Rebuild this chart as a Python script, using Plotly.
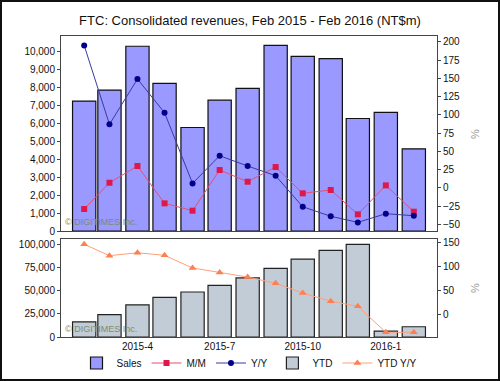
import plotly.graph_objects as go

months = ["2015-2", "2015-3", "2015-4", "2015-5", "2015-6", "2015-7", "2015-8",
          "2015-9", "2015-10", "2015-11", "2015-12", "2016-1", "2016-2"]
sales = [7230, 7840, 10280, 8210, 5760, 7280, 7940, 10330, 9720, 9590, 6260, 6600, 4570]
mm = [-29.1, 6.9, 29.8, -21.3, -31.4, 24.3, 8.3, 28.4, -7.6, -3.0, -36.4, 3.3, -32.8]
yy = [195.0, 86.9, 149.0, 102.8, 6.0, 43.9, 29.8, 16.5, -26.0, -39.0, -47.4, -35.5, -38.3]
ytd = [16300, 24100, 34500, 42600, 48400, 55600, 63500, 73900, 83800, 93200, 99600, 6400, 11000]
ytd_yy = [146.7, 123.0, 129.0, 123.7, 97.3, 88.0, 78.5, 65.4, 45.2, 27.9, 17.5, -36.7, -36.7]
tick_months = ["2015-4", "2015-7", "2015-10", "2016-1"]

FONT = "Liberation Sans, Arial, sans-serif"
W, H = 500, 381
L, R, T, B = 61, 63, 36, 44
PW, PH = W - L - R, H - T - B

def py(y):  # pixel y -> paper y
    return (H - B - y) / PH

def px(x):
    return (x - L) / PW

fig = go.Figure()
fig.add_trace(go.Bar(x=months, y=sales, name="Sales", xaxis="x", yaxis="y",
                     marker=dict(color="#9999FF", line=dict(color="#111111", width=1.2))))
fig.add_trace(go.Scatter(x=months, y=mm, name="M/M", xaxis="x", yaxis="y2", mode="lines+markers",
                         line=dict(color="#E8506E", width=1),
                         marker=dict(symbol="square", size=6, color="#E0174A")))
fig.add_trace(go.Scatter(x=months, y=yy, name="Y/Y", xaxis="x", yaxis="y2", mode="lines+markers",
                         line=dict(color="#3A3AA0", width=1),
                         marker=dict(symbol="circle", size=6, color="#00008B")))
fig.add_trace(go.Bar(x=months, y=ytd, name="YTD", xaxis="x2", yaxis="y3",
                     marker=dict(color="#C2CCD6", line=dict(color="#222222", width=1.2))))
fig.add_trace(go.Scatter(x=months, y=ytd_yy, name="YTD Y/Y", xaxis="x2", yaxis="y4", mode="lines+markers",
                         line=dict(color="#FFA07A", width=1),
                         marker=dict(symbol="triangle-up", size=7, color="#FF7F50")))

top_dom = [py(231), 1.0]
bot_dom = [0.0, py(239)]

axis_common = dict(showgrid=False, zeroline=False, showline=True, linecolor="#444444", linewidth=1,
                   tickfont=dict(family=FONT, size=10, color="#111111"))

fig.update_layout(
    width=W, height=H,
    margin=dict(l=L, r=R, t=T, b=B, autoexpand=False),
    paper_bgcolor="white", plot_bgcolor="white",
    bargap=0.08,
    showlegend=True,
    title=dict(text="FTC: Consolidated revenues, Feb 2015 - Feb 2016 (NT$m)",
               x=0.5, xanchor="center", y=1 - 20 / H, yanchor="middle",
               font=dict(family=FONT, size=13, color="#111111")),
    xaxis=dict(domain=[0, 1], anchor="y", matches="x2", showticklabels=False, ticks="",
               mirror=True, categoryorder="array", categoryarray=months, **axis_common),
    xaxis2=dict(domain=[0, 1], anchor="y3", tickvals=tick_months, ticktext=tick_months, ticks="",
                mirror=True, categoryorder="array", categoryarray=months, **axis_common),
    yaxis=dict(domain=top_dom, anchor="x", range=[0, 10850], tickvals=list(range(0, 10001, 1000)),
               tickformat=",d", ticks="outside", ticklen=3, tickcolor="#444444", mirror=True, **axis_common),
    yaxis2=dict(domain=top_dom, anchor="x", overlaying="y", side="right", range=[-59.2, 207.9],
                tickvals=list(range(-50, 201, 25)), ticks="outside", ticklen=3, tickcolor="#444444",
                **axis_common),
    yaxis3=dict(domain=bot_dom, anchor="x2", range=[0, 105400], tickvals=[0, 25000, 50000, 75000, 100000],
                tickformat=",d", ticks="outside", ticklen=3, tickcolor="#444444", mirror=True, **axis_common),
    yaxis4=dict(domain=bot_dom, anchor="x2", overlaying="y3", side="right", range=[-46.5, 157.7],
                tickvals=[0, 50, 100, 150], ticks="outside", ticklen=3, tickcolor="#444444",
                **axis_common),
    legend=dict(orientation="h", x=0.5, xanchor="center", y=py(363), yanchor="middle",
                font=dict(family=FONT, size=10, color="#111111"), itemwidth=30,
                traceorder="normal", bgcolor="rgba(0,0,0,0)"),
)

annots = [
    dict(text="%", x=px(475), y=py(134), textangle=-90),
    dict(text="%", x=px(475), y=py(288), textangle=-90),
]
for a in annots:
    fig.add_annotation(xref="paper", yref="paper", showarrow=False, xanchor="center", yanchor="middle",
                       font=dict(family=FONT, size=11, color="#999999"), **a)

for yy_pix in (222, 329):
    fig.add_annotation(text="© DIGITIMES Inc.", xref="paper", yref="paper", x=px(63), y=py(yy_pix),
                       xanchor="left", yanchor="middle", showarrow=False,
                       font=dict(family=FONT, size=9, color="#7D8C6E"))

fig.add_shape(type="rect", xref="paper", yref="paper", x0=px(1), x1=px(W - 1), y0=py(H - 1), y1=py(1),
              line=dict(color="#111111", width=2), fillcolor="rgba(0,0,0,0)", layer="above")

fig.write_html("out.html",
               config={"displayModeBar": False},
               post_script="document.body.style.margin='0';document.body.style.padding='0';"
                           "document.body.style.overflow='hidden';")
